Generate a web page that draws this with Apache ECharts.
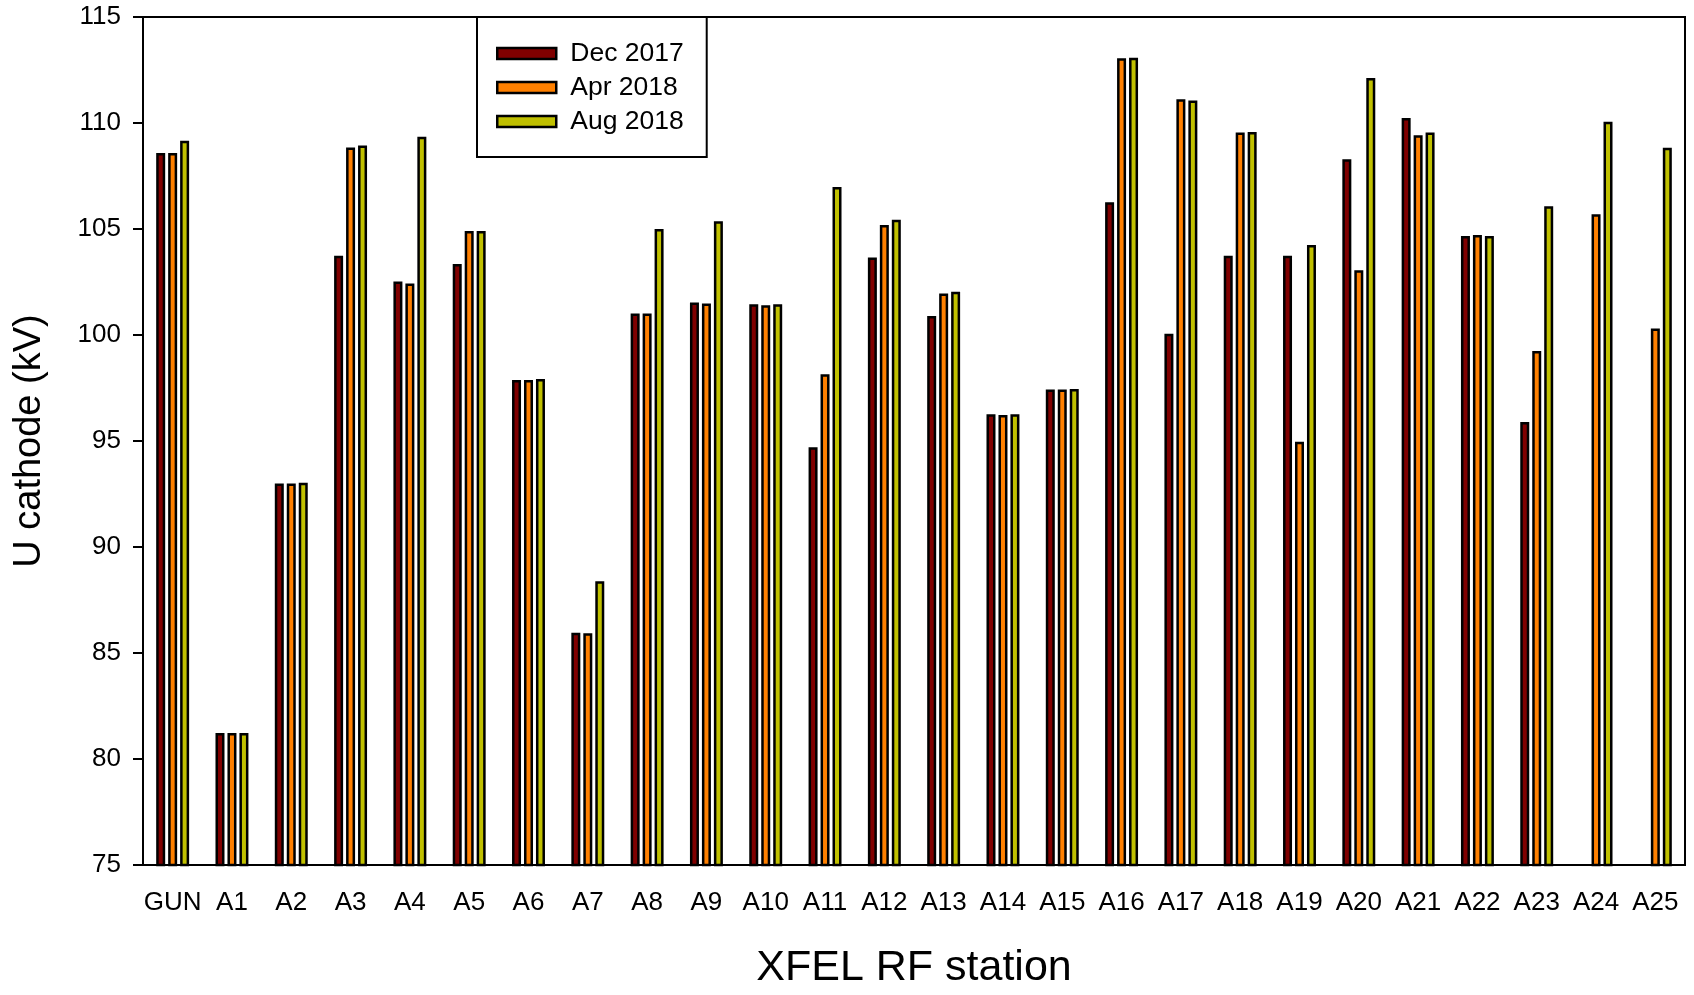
<!DOCTYPE html>
<html>
<head>
<meta charset="utf-8">
<script src="https://cdn.jsdelivr.net/npm/echarts@6/dist/echarts.min.js"></script>
<style>
html,body{margin:0;padding:0;background:#fff;}
#chart{width:1694px;height:995px;}
</style>
</head>
<body>
<div id="chart"></div>
<script>
const categories = ['GUN','A1','A2','A3','A4','A5','A6','A7','A8','A9','A10','A11','A12','A13','A14','A15','A16','A17','A18','A19','A20','A21','A22','A23','A24','A25'];
const dec2017 = [108.58, 81.23, 93.00, 103.74, 102.52, 103.35, 97.88, 85.96, 101.01, 101.53, 101.45, 94.70, 103.66, 100.90, 96.26, 97.43, 106.26, 100.06, 103.74, 103.74, 108.29, 110.23, 104.67, 95.90, null, null];
const apr2018 = [108.58, 81.23, 93.00, 108.85, 102.43, 104.91, 97.88, 85.93, 101.01, 101.48, 101.40, 98.15, 105.19, 101.96, 96.23, 97.43, 113.05, 111.12, 109.55, 94.97, 103.05, 109.42, 104.72, 99.25, 105.70, 100.31];
const aug2018 = [109.16, 81.23, 93.03, 108.94, 109.35, 104.91, 97.93, 88.39, 105.00, 105.37, 101.45, 106.98, 105.44, 102.04, 96.26, 97.45, 113.08, 111.06, 109.58, 104.24, 112.12, 109.55, 104.67, 106.07, 110.06, 108.83];
const seriesNames = ['Dec 2017', 'Apr 2018', 'Aug 2018'];
const seriesColors = ['#800000', '#FF8000', '#C0C000'];
const yTicks = {min: 75, max: 115, interval: 5};

const FONT = '"Liberation Sans", Arial, sans-serif';
const chart = echarts.init(document.getElementById('chart'));
const dataSets = [dec2017, apr2018, aug2018];

chart.setOption({
  animation: false,
  backgroundColor: '#fff',
  textStyle: {fontFamily: FONT, color: '#000'},
  grid: {left: 143, right: 9, top: 17, bottom: 120, show: true, borderColor: '#000', borderWidth: 2, backgroundColor: 'transparent'},
  legend: {
    orient: 'vertical',
    left: 477, top: 17,
    padding: [23, 23, 22, 19],
    itemWidth: 59, itemHeight: 11,
    itemGap: 7,
    icon: 'rect',
    borderColor: '#000', borderWidth: 2,
    backgroundColor: '#fff',
    itemStyle: {borderColor: '#000', borderWidth: 2.5},
    textStyle: {fontFamily: FONT, fontSize: 26.5, color: '#000', lineHeight: 26, padding: [0, 0, 0, 9]},
    data: seriesNames
  },
  xAxis: {
    type: 'category',
    data: categories,
    boundaryGap: true,
    name: 'XFEL RF station',
    nameLocation: 'middle',
    nameGap: 82,
    nameTextStyle: {fontFamily: FONT, fontSize: 43, color: '#000'},
    axisLine: {lineStyle: {color: '#000', width: 2}},
    axisTick: {alignWithLabel: true, length: 10, lineStyle: {color: '#000', width: 2}},
    axisLabel: {fontFamily: FONT, fontSize: 26, color: '#000', margin: 25, interval: 0},
    splitLine: {show: false}
  },
  yAxis: {
    type: 'value',
    min: yTicks.min, max: yTicks.max, interval: yTicks.interval,
    name: 'U cathode (kV)',
    nameLocation: 'middle',
    nameGap: 94,
    nameTextStyle: {fontFamily: FONT, fontSize: 38, color: '#000'},
    axisLine: {show: true, lineStyle: {color: '#000', width: 2}},
    axisTick: {show: true, length: 10, lineStyle: {color: '#000', width: 2}},
    axisLabel: {fontFamily: FONT, fontSize: 26, color: '#000', margin: 22},
    splitLine: {show: false}
  },
  series: dataSets.map((d, i) => ({
    name: seriesNames[i],
    type: 'bar',
    data: d,
    barWidth: 9,
    barGap: '33%',
    itemStyle: {color: seriesColors[i], borderColor: '#000', borderWidth: 2.5}
  }))
});
</script>
</body>
</html>
